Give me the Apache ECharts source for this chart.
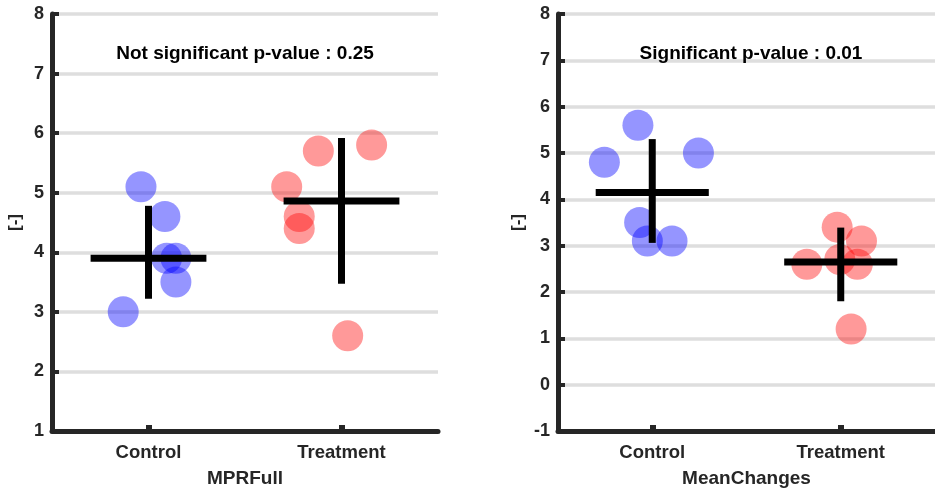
<!DOCTYPE html>
<html>
<head>
<meta charset="utf-8">
<script src="https://cdn.jsdelivr.net/npm/echarts@6/dist/echarts.min.js"></script>
<style>html,body{margin:0;padding:0;background:#fff}#c{width:935px;height:493px}</style>
</head>
<body>
<div id="c"></div>
<script>
// ---------- data ----------
const categories = ['Control', 'Treatment'];
const panelNames = ['MPRFull', 'MeanChanges'];
const panelTitles = ['Not significant p-value : 0.25', 'Significant p-value : 0.01'];
const yMins = [1, -1];
const yMaxs = [8, 8];

// MPRFull
const mprControlX = [0.961, 1.085, 1.094, 1.142, 1.142, 0.869];
const mprControlY = [5.1, 4.6, 3.9, 3.9, 3.5, 3.0];
const mprTreatX = [1.880, 2.156, 1.716, 1.781, 1.781, 2.032];
const mprTreatY = [5.7, 5.8, 5.1, 4.6, 4.4, 2.6];
// [category position, median, lower, upper]
const mprSummary = [[1, 3.9, 3.22, 4.78], [2, 4.86, 3.47, 5.92]];

// MeanChanges
const mcControlX = [0.924, 0.746, 1.245, 0.933, 0.974, 1.105];
const mcControlY = [5.6, 4.8, 5.0, 3.5, 3.1, 3.1];
const mcTreatX = [1.981, 2.110, 1.820, 1.995, 2.088, 2.055];
const mcTreatY = [3.4, 3.1, 2.6, 2.7, 2.6, 1.2];
const mcSummary = [[1, 4.15, 3.06, 5.30], [2, 2.65, 1.80, 3.39]];

// ---------- build ----------
const zip = (xs, ys) => xs.map((x, i) => [x, ys[i]]);
const FONT = 'Liberation Sans, Arial, Helvetica, sans-serif';
const AX = '#262626';
const HALF = 0.3;

const grids = [
  { left: 52, top: 14, width: 386, height: 418 },
  { left: 558, top: 14, width: 386, height: 418 }
];
const titleCenters = [245, 751];

const xAxes = [], yAxes = [], series = [], titles = [];
[0, 1].forEach(g => {
  xAxes.push({
    type: 'category', gridIndex: g, data: categories, boundaryGap: true,
    position: 'bottom',
    name: panelNames[g], nameLocation: 'middle', nameGap: 38,
    nameTextStyle: { fontFamily: FONT, fontWeight: 'bold', fontSize: 19, color: AX },
    axisLine: { show: true, onZero: false, lineStyle: { color: AX, width: 5 } },
    axisTick: { show: true, inside: true, alignWithLabel: true, length: 6, lineStyle: { color: AX, width: 6 } },
    axisLabel: { margin: 12, fontFamily: FONT, fontWeight: 'bold', fontSize: 18.5, color: AX },
    splitLine: { show: false }
  });
  xAxes.push({
    type: 'value', gridIndex: g, min: 0.5, max: 2.5, show: false,
    axisLine: { onZero: false },
    splitLine: { show: false }
  });
  yAxes.push({
    type: 'value', gridIndex: g, min: yMins[g], max: yMaxs[g], interval: 1,
    name: '[-]', nameLocation: 'middle', nameGap: g === 0 ? 28 : 31, nameRotate: 90,
    nameTextStyle: { fontFamily: FONT, fontWeight: 'bold', fontSize: 17, color: AX },
    axisLine: { show: true, onZero: false, lineStyle: { color: AX, width: 5 } },
    axisTick: { show: true, inside: true, length: 7, lineStyle: { color: AX, width: 4 } },
    axisLabel: { margin: 8, fontFamily: FONT, fontWeight: 'bold', fontSize: 18, color: AX },
    splitLine: { show: true, lineStyle: { color: '#dedede', width: 3.5 } }
  });
  titles.push({
    text: panelTitles[g], left: titleCenters[g], top: 44, textAlign: 'center', padding: 0,
    textStyle: { fontFamily: FONT, fontWeight: 'bold', fontSize: 19, color: '#000' }
  });
});

const panels = [
  { c: zip(mprControlX, mprControlY), t: zip(mprTreatX, mprTreatY), s: mprSummary },
  { c: zip(mcControlX, mcControlY), t: zip(mcTreatX, mcTreatY), s: mcSummary }
];

panels.forEach((p, g) => {
  const xi = g * 2 + 1;
  series.push({
    type: 'scatter', xAxisIndex: xi, yAxisIndex: g, data: p.c, symbolSize: 31,
    itemStyle: { color: 'rgba(0,0,255,0.52)' }, z: 2, silent: true
  });
  series.push({
    type: 'scatter', xAxisIndex: xi, yAxisIndex: g, data: p.t, symbolSize: 31,
    itemStyle: { color: 'rgba(255,0,0,0.5)' }, z: 2, silent: true
  });
  series.push({
    type: 'custom', xAxisIndex: xi, yAxisIndex: g, data: p.s, clip: false, z: 3, silent: true,
    encode: { x: 0, y: 1 },
    renderItem: function (params, api) {
      const x = api.value(0), m = api.value(1), lo = api.value(2), hi = api.value(3);
      const a = api.coord([x - HALF, m]), b = api.coord([x + HALF, m]);
      const t = api.coord([x, hi]), d = api.coord([x, lo]);
      const st = { stroke: '#000', lineWidth: 7, lineCap: 'butt' };
      return {
        type: 'group',
        children: [
          { type: 'line', shape: { x1: a[0], y1: a[1], x2: b[0], y2: b[1] }, style: st },
          { type: 'line', shape: { x1: t[0], y1: t[1], x2: d[0], y2: d[1] }, style: st }
        ]
      };
    }
  });
});

const chart = echarts.init(document.getElementById('c'), null, { renderer: 'canvas' });
chart.setOption({
  animation: false,
  backgroundColor: '#fff',
  title: titles,
  grid: grids,
  xAxis: xAxes,
  yAxis: yAxes,
  series: series
});
</script>
</body>
</html>
